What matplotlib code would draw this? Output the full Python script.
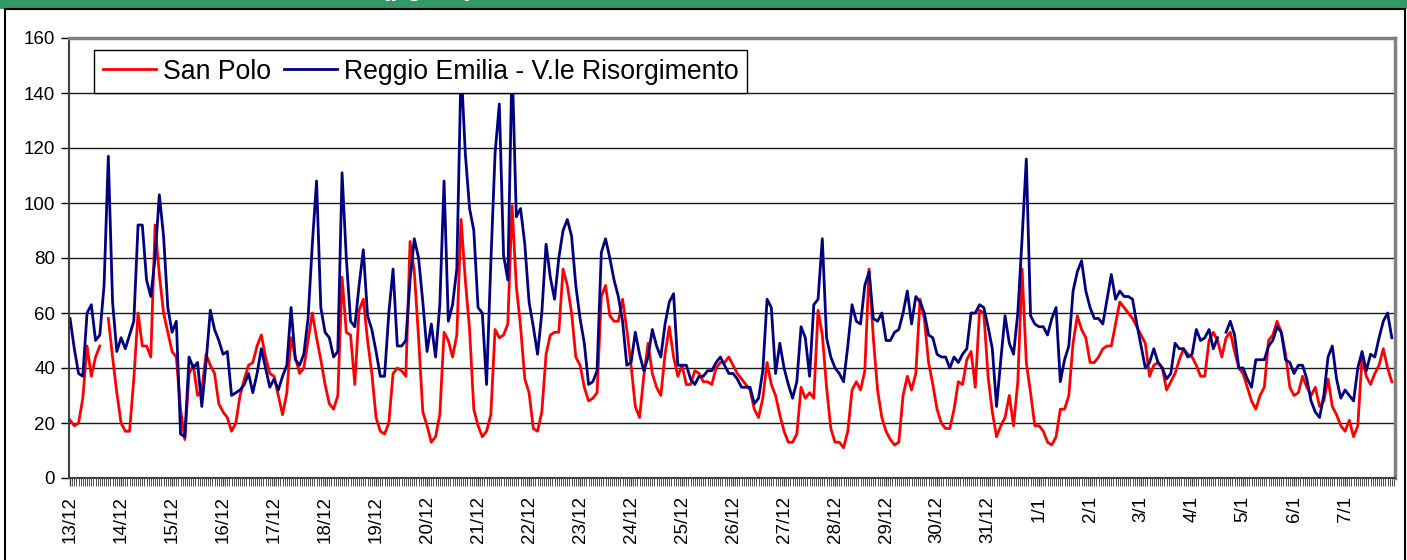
import numpy as np
import matplotlib.pyplot as plt
from matplotlib.patches import Rectangle

nan = np.nan

# one label per day, values every 2 hours (12 per day)
giorni = ['13/12', '14/12', '15/12', '16/12', '17/12', '18/12', '19/12',
          '20/12', '21/12', '22/12', '23/12', '24/12', '25/12', '26/12',
          '27/12', '28/12', '29/12', '30/12', '31/12', '1/1', '2/1', '3/1',
          '4/1', '5/1', '6/1', '7/1']
passo_ore = 2

san_polo = [
    21, 19, 20, 29, 48, 37, 44, 48, nan, 58, 44, 31,   # 13/12
    20, 17, 17, 36, 60, 48, 48, 44, 92, 74, 60, 53,    # 14/12
    46, 44, 25, 14, 38, 41, 30, 32, 45, 41, 38, 27,    # 15/12
    24, 22, 17, 20, 30, 36, 41, 42, 48, 52, 44, 38,    # 16/12
    37, 30, 23, 31, 51, 44, 38, 40, 50, 60, 51, 43,    # 17/12
    34, 27, 25, 30, 73, 53, 52, 34, 61, 65, 50, 38,    # 18/12
    22, 17, 16, 20, 38, 40, 39, 37, 86, 75, 51, 24,    # 19/12
    19, 13, 15, 23, 53, 50, 44, 52, 94, 72, 54, 25,    # 20/12
    19, 15, 17, 23, 54, 51, 52, 56, 99, 70, 55, 36,    # 21/12
    31, 18, 17, 24, 45, 52, 53, 53, 76, 70, 60, 44,    # 22/12
    41, 33, 28, 29, 31, 66, 70, 59, 57, 57, 65, 54,    # 23/12
    41, 26, 22, 37, 49, 38, 33, 30, 45, 55, 44, 37,    # 24/12
    41, 34, 34, 39, 38, 35, 35, 34, 40, 42, 42, 44,    # 25/12
    41, 38, 36, 34, 32, 25, 22, 29, 42, 34, 30, 23,    # 26/12
    17, 13, 13, 16, 33, 29, 31, 29, 61, 52, 33, 18,    # 27/12
    13, 13, 11, 17, 32, 35, 32, 39, 76, 51, 32, 22,    # 28/12
    17, 14, 12, 13, 30, 37, 32, 38, 65, 58, 42, 34,    # 29/12
    25, 20, 18, 18, 25, 35, 34, 43, 46, 33, 61, 60,    # 30/12
    37, 24, 15, 19, 22, 30, 19, 35, 76, 42, 31, 19,    # 31/12
    19, 17, 13, 12, 15, 25, 25, 30, 49, 59, 54, 51,    # 1/1
    42, 42, 44, 47, 48, 48, 56, 64, 62, 60, 58, 55,    # 2/1
    52, 49, 37, 41, 42, 40, 32, 35, 38, 43, 47, 45,    # 3/1
    44, 41, 37, 37, 50, 53, 50, 44, 51, 53, 46, 40,    # 4/1
    38, 33, 28, 25, 30, 33, 50, 52, 57, 53, 45, 33,    # 5/1
    30, 31, 37, 33, 30, 33, 26, 28, 36, 26, 23, 19,    # 6/1
    17, 21, 15, 19, 44, 37, 34, 38, 41, 47, 40, 35,    # 7/1
]

reggio = [
    58, 47, 38, 37, 60, 63, 50, 52, 70, 117, 64, 46,   # 13/12
    51, 47, 52, 57, 92, 92, 72, 66, 80, 103, 88, 62,   # 14/12
    53, 57, 16, 15, 44, 40, 42, 26, 42, 61, 54, 50,    # 15/12
    45, 46, 30, 31, 32, 34, 38, 31, 38, 47, 40, 33,    # 16/12
    36, 32, 37, 41, 62, 43, 41, 45, 58, 85, 108, 62,   # 17/12
    53, 51, 44, 46, 111, 80, 57, 55, 70, 83, 59, 54,   # 18/12
    46, 37, 37, 60, 76, 48, 48, 50, 72, 87, 80, 64,    # 19/12
    46, 56, 44, 63, 108, 57, 63, 76, 150, 118, 98, 90, # 20/12
    62, 60, 34, 78, 118, 136, 81, 72, 152, 95, 98, 85, # 21/12
    64, 55, 45, 60, 85, 73, 65, 80, 90, 94, 88, 70,    # 22/12
    58, 49, 34, 35, 39, 82, 87, 80, 72, 66, 57, 41,    # 23/12
    42, 53, 45, 39, 44, 54, 48, 44, 56, 64, 67, 41,    # 24/12
    41, 41, 36, 34, 37, 37, 39, 39, 42, 44, 41, 38,    # 25/12
    38, 36, 33, 33, 33, 27, 29, 39, 65, 62, 38, 49,    # 26/12
    40, 34, 29, 35, 55, 51, 37, 63, 65, 87, 51, 44,    # 27/12
    40, 38, 35, 48, 63, 57, 56, 70, 75, 58, 57, 60,    # 28/12
    50, 50, 53, 54, 60, 68, 56, 66, 64, 60, 52, 51,    # 29/12
    45, 44, 44, 40, 44, 42, 45, 47, 60, 60, 63, 62,    # 30/12
    55, 47, 26, 43, 59, 49, 45, 60, 87, 116, 59, 56,   # 31/12
    55, 55, 52, 58, 62, 35, 43, 48, 68, 75, 79, 68,    # 1/1
    62, 58, 58, 56, 65, 74, 65, 68, 66, 66, 65, 56,    # 2/1
    48, 40, 42, 47, 42, 40, 36, 38, 49, 47, 47, 44,    # 3/1
    45, 54, 50, 51, 54, 47, 51, nan, 53, 57, 52, 40,   # 4/1
    40, 36, 33, 43, 43, 43, 48, 50, 55, 53, 43, 42,    # 5/1
    38, 41, 41, 36, 28, 24, 22, 30, 44, 48, 36, 29,    # 6/1
    32, 30, 28, 40, 46, 39, 45, 44, 51, 57, 60, 51,    # 7/1
]

W, H = 1407, 560
fig = plt.figure(figsize=(W / 100, H / 100), dpi=100)
plt.rcParams['font.family'] = ['Liberation Sans', 'DejaVu Sans']

# green header band and chart area frame
fig.patches.append(Rectangle((0, 1 - 9 / H), 1, 9 / H, transform=fig.transFigure,
                             facecolor='#339966', edgecolor='none', zorder=0))
fig.patches.append(Rectangle((5 / W, -0.01), 1400 / W, 1 - 9 / H + 0.01,
                             transform=fig.transFigure, facecolor='none',
                             edgecolor='black', lw=1.5, zorder=1))
# title of the chart, mostly above the cropped picture
fig.text(395 / W, 1 + 5 / H, 'NO2 (µg/m³)', color='white', fontsize=20,
         fontweight='bold', ha='center', va='baseline')

ax = fig.add_axes([69 / W, 1 - 478 / H, (1395 - 69) / W, 440 / H])

ore = np.arange(len(san_polo)) * passo_ore
ax.plot(ore, san_polo, color='#FF0000', lw=2, label='San Polo')
ax.plot(ore, reggio, color='#000080', lw=2, label='Reggio Emilia - V.le Risorgimento')

ax.set_xlim(-0.5, len(giorni) * 24 - 0.5)
ax.set_ylim(0, 160)
ax.set_yticks(range(0, 161, 20))
ax.yaxis.grid(True, color='#1a1a1a', lw=1)
ax.set_axisbelow(True)

ax.set_xticks(np.arange(len(giorni)) * 24)
ax.set_xticklabels(giorni, rotation=90)
ax.set_xticks(np.arange(len(giorni) * 24), minor=True)
ax.tick_params(axis='x', which='major', length=6, width=1, color='#404040',
               labelsize=13.5, pad=7)
ax.tick_params(axis='x', which='minor', length=6, width=0.7, color='#505050')
ax.tick_params(axis='y', length=6, width=1, labelsize=13.5, pad=4)

for s in ['top', 'right']:
    ax.spines[s].set_color('#808080')
    ax.spines[s].set_linewidth(2.5)
for s in ['left', 'bottom']:
    ax.spines[s].set_color('#404040')
    ax.spines[s].set_linewidth(1.5)

leg = ax.legend(loc='upper left', bbox_to_anchor=((94 - 69) / 1326, (478 - 50) / 440),
                ncol=2, fontsize=19.2, frameon=True, fancybox=False, framealpha=1,
                edgecolor='black', borderaxespad=0, borderpad=0.32,
                handlelength=2.0, handletextpad=0.25, columnspacing=0.5)
leg.get_frame().set_linewidth(1)

fig.savefig('out.png', dpi=100)
